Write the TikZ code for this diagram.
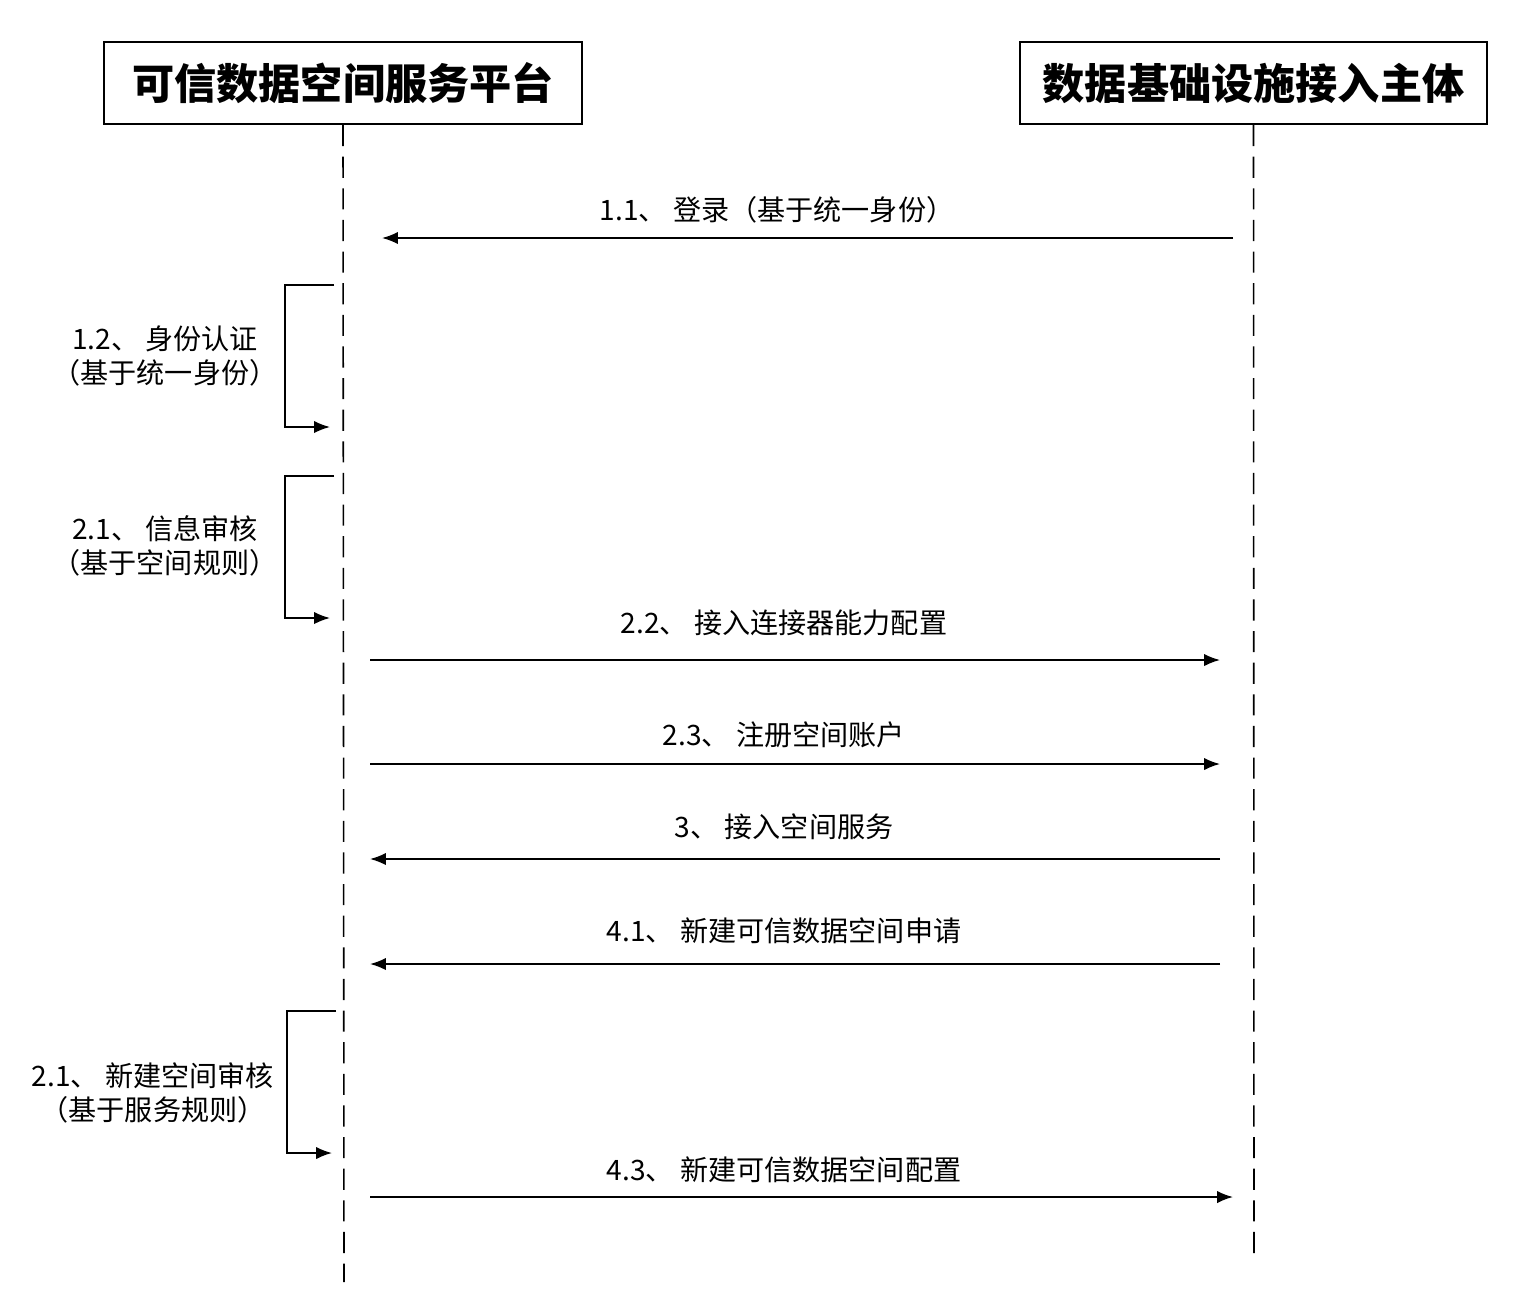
\documentclass[tikz,border=0pt]{standalone}
\usepackage{fontspec}
\setmainfont{Noto Sans CJK SC}
\usetikzlibrary{arrows.meta}
\tikzset{
  actor/.style={draw,line width=1.2pt,minimum width=#1,minimum height=1.64cm,font=\fontsize{24}{28}\selectfont\bfseries},
  lifeline/.style={dashed,line width=0.9pt,dash pattern=on 12pt off 6pt},
  msg/.style={-{Latex[length=9pt,width=7pt]},line width=1pt},
  lbl/.style={font=\fontsize{16}{19}\selectfont,align=center}
}
\begin{document}
\begin{tikzpicture}[x=0.02cm,y=-0.02cm]
  \useasboundingbox[fill=white] (0,0) rectangle (1518,1292);
  % participants
  \node[actor=9.56cm] (plat) at (343,83) {可信数据空间服务平台};
  \node[actor=9.34cm] (subj) at (1253.5,83) {数据基础设施接入主体};
  \coordinate (pend) at (344,1282);
  \coordinate (send) at (1254,1262);
  \draw[lifeline] (plat.south) -- (pend);
  \draw[lifeline] (subj.south) -- (send);
  % messages
  \draw[msg] (1233,238) -- (382,238);
  \node[lbl] (m11) at (777,210) {1.1、 登录（基于统一身份）};
  \draw[msg] (334,285) -- (285,285) -- (285,427) -- (330,427);
  \node[lbl] (m12) at (165,356) {1.2、 身份认证\\（基于统一身份）};
  \draw[msg] (334,476) -- (285,476) -- (285,618) -- (330,618);
  \node[lbl] (m21) at (165,546) {2.1、 信息审核\\（基于空间规则）};
  \draw[msg] (370,660) -- (1220,660);
  \node[lbl] (m22) at (784,623) {2.2、 接入连接器能力配置};
  \draw[msg] (370,764) -- (1220,764);
  \node[lbl] (m23) at (784,735) {2.3、 注册空间账户};
  \draw[msg] (1220,859) -- (370,859);
  \node[lbl] (m3) at (784,827) {3、 接入空间服务};
  \draw[msg] (1220,964) -- (370,964);
  \node[lbl] (m41) at (784,931) {4.1、 新建可信数据空间申请};
  \draw[msg] (336,1011) -- (287,1011) -- (287,1153) -- (332,1153);
  \node[lbl] (m42) at (153,1093) {2.1、 新建空间审核\\（基于服务规则）};
  \draw[msg] (370,1197) -- (1233,1197);
  \node[lbl] (m43) at (784,1170) {4.3、 新建可信数据空间配置};
\end{tikzpicture}
\end{document}
